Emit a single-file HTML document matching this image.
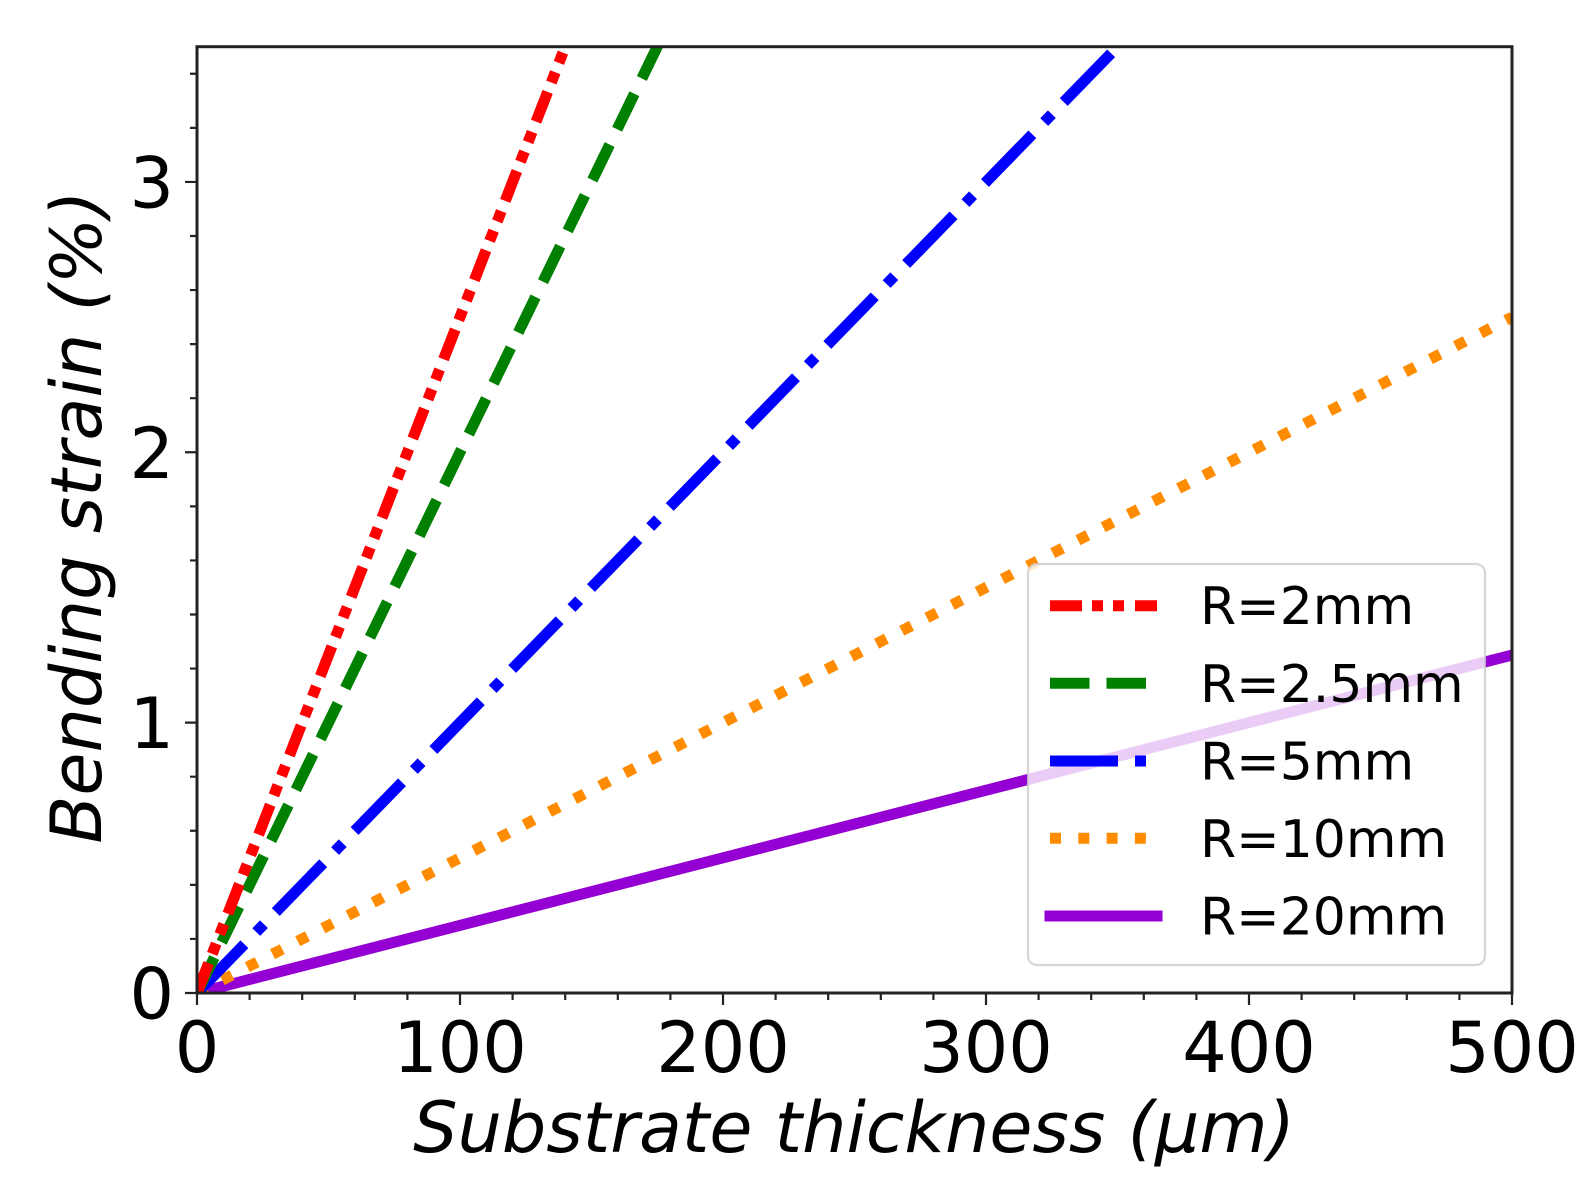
<!DOCTYPE html>
<html>
<head>
<meta charset="utf-8">
<style>
  html,body{margin:0;padding:0;background:#fff;}
  svg{display:block;}
  text{font-family:"DejaVu Sans","Liberation Sans",sans-serif;fill:#000;}
</style>
</head>
<body>
<svg width="1596" height="1185" viewBox="0 0 1596 1185" xmlns="http://www.w3.org/2000/svg">
  <rect x="0" y="0" width="1596" height="1185" fill="#fff"/>
  <defs>
    <clipPath id="ax">
      <rect x="197" y="46.7" width="1315" height="946.3"/>
    </clipPath>
  </defs>

  <g clip-path="url(#ax)" fill="none" stroke-width="11">
    <path d="M197 993L1512 655.05" stroke="#9400d3" stroke-linecap="square"/>
    <path d="M197 993L1512 317.1" stroke="#ff8c00" stroke-dasharray="11 17.3"/>
    <path d="M197 993L1512 -358.8" stroke="#0000ff" stroke-dasharray="68 17 11 17"/>
    <path d="M197 993L1512 -1710.6" stroke="#008000" stroke-dasharray="39.5 17"/>
    <path d="M197 993L1512 -2386.5" stroke="#ff0000" stroke-dasharray="32 10 11 10 11 11"/>
  </g>

  <path fill="none" stroke="#222" stroke-width="2.2" d="M197 993V1005M460 993V1005M723 993V1005M986 993V1005M1249 993V1005M1512 993V1005M185 993H197M185 722.64H197M185 452.28H197M185 181.92H197"/>
  <path fill="none" stroke="#222" stroke-width="2.2" d="M249.6 993v7M302.2 993v7M354.8 993v7M407.4 993v7M512.6 993v7M565.2 993v7M617.8 993v7M670.4 993v7M775.6 993v7M828.2 993v7M880.8 993v7M933.4 993v7M1038.6 993v7M1091.2 993v7M1143.8 993v7M1196.4 993v7M1301.6 993v7M1354.2 993v7M1406.8 993v7M1459.4 993v7M190 938.93h7M190 884.86h7M190 830.78h7M190 776.71h7M190 668.57h7M190 614.5h7M190 560.42h7M190 506.35h7M190 398.21h7M190 344.14h7M190 290.06h7M190 235.99h7M190 127.85h7M190 73.78h7"/>

  <rect x="197" y="46.7" width="1315" height="946.3" fill="none" stroke="#222" stroke-width="3"/>

  <rect x="1028" y="564" width="457" height="401" rx="9" ry="9" fill="#fff" fill-opacity="0.8" stroke="#cccccc" stroke-opacity="0.8" stroke-width="2.2"/>
  <g fill="none" stroke-width="11">
    <path d="M1050 605.7H1157" stroke="#ff0000" stroke-dasharray="32 10 11 10 11 11"/>
    <path d="M1050 683.3H1157" stroke="#008000" stroke-dasharray="39.5 17"/>
    <path d="M1050 761H1157" stroke="#0000ff" stroke-dasharray="68 17 11 17"/>
    <path d="M1050 838.3H1157" stroke="#ff8c00" stroke-dasharray="11 17.3"/>
    <path d="M1050 916H1157" stroke="#9400d3" stroke-linecap="square"/>
  </g>
  <g font-size="52">
    <text x="1200" y="624">R=2mm</text>
    <text x="1200" y="701.8">R=2.5mm</text>
    <text x="1200" y="779.5">R=5mm</text>
    <text x="1200" y="856.8">R=10mm</text>
    <text x="1200" y="934.5">R=20mm</text>
  </g>

  <g font-size="70" text-anchor="middle">
    <text x="197" y="1072">0</text>
    <text x="460" y="1072">100</text>
    <text x="723" y="1072">200</text>
    <text x="986" y="1072">300</text>
    <text x="1249" y="1072">400</text>
    <text x="1512" y="1072">500</text>
  </g>
  <g font-size="70" text-anchor="end">
    <text x="174" y="1018.5">0</text>
    <text x="174" y="748.2">1</text>
    <text x="174" y="477.8">2</text>
    <text x="174" y="207.5">3</text>
  </g>

  <text x="854" y="1152" font-size="70" font-style="italic" text-anchor="middle">Substrate thickness (μm)</text>
  <text transform="translate(101,517) rotate(-90)" font-size="70" font-style="italic" text-anchor="middle">Bending strain (%)</text>
</svg>
</body>
</html>
